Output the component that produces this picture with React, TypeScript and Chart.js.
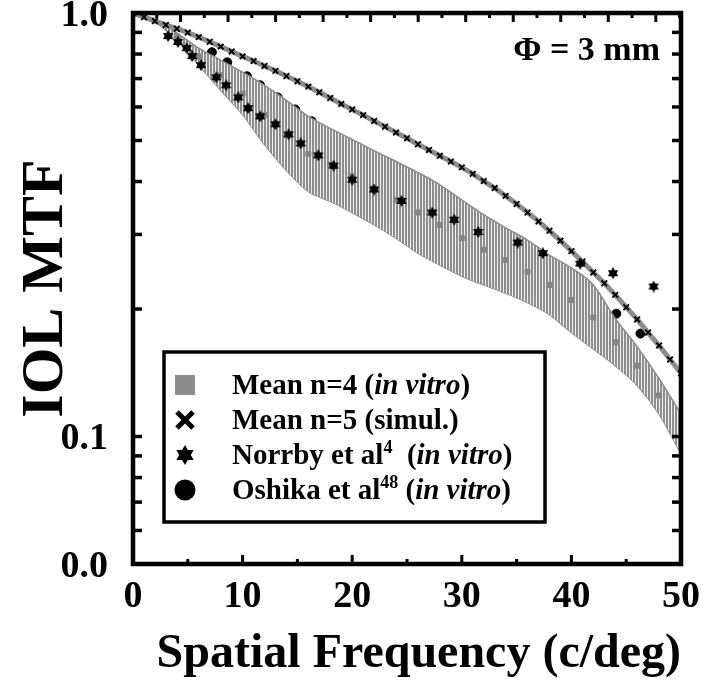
import React, { useEffect, useRef } from 'react';
import { Chart, registerables } from 'chart.js';

Chart.register(...registerables);

// ---------------- data ----------------
// Mean n=5 (simul.) : MTF vs spatial frequency (c/deg)
const SIM_FREQ = [
  0, 1, 2, 3, 4, 5, 6, 7, 8, 9, 10, 11, 12, 13, 14, 15, 16, 17, 18, 19, 20, 21, 22, 23, 24, 25,
  26, 27, 28, 29, 30, 31, 32, 33, 34, 35, 36, 37, 38, 39, 40, 41, 42, 43, 44, 45, 46, 47, 48, 49, 50,
];
const SIM_MTF = [
  1.0, 0.978, 0.957, 0.937, 0.918, 0.899, 0.877, 0.855, 0.833, 0.811, 0.79, 0.77, 0.75, 0.73, 0.71,
  0.69, 0.67, 0.65, 0.63, 0.61, 0.592, 0.574, 0.556, 0.539, 0.522, 0.506, 0.49, 0.475, 0.46, 0.446,
  0.432, 0.417, 0.401, 0.386, 0.37, 0.354, 0.338, 0.322, 0.306, 0.29, 0.274, 0.259, 0.244, 0.23,
  0.216, 0.202, 0.189, 0.176, 0.164, 0.152, 0.141,
];

// Mean n=4 (in vitro): mean and error-bar limits
const BAND_FREQ = [0, 2, 4, 6, 8, 10, 12, 14, 16, 18, 20, 22, 24, 26, 28, 30, 32, 34, 36, 38, 40, 42, 44, 46, 48, 50];
const BAND_MEAN = [
  1.0, 0.96, 0.88, 0.789, 0.713, 0.646, 0.575, 0.514, 0.465, 0.438, 0.412, 0.387, 0.362, 0.338,
  0.316, 0.294, 0.276, 0.261, 0.245, 0.228, 0.21, 0.191, 0.167, 0.147, 0.125, 0.102,
];
const BAND_HIGH = [
  1.0, 0.968, 0.897, 0.826, 0.774, 0.725, 0.675, 0.622, 0.57, 0.534, 0.503, 0.473, 0.446, 0.42,
  0.393, 0.362, 0.334, 0.311, 0.291, 0.268, 0.25, 0.228, 0.19, 0.163, 0.137, 0.113,
];
const BAND_LOW = [
  1.0, 0.952, 0.863, 0.753, 0.657, 0.576, 0.489, 0.425, 0.379, 0.359, 0.338, 0.316, 0.294, 0.271,
  0.254, 0.239, 0.228, 0.218, 0.207, 0.194, 0.176, 0.161, 0.147, 0.132, 0.113, 0.091,
];

// Norrby et al (in vitro)
const NORRBY_FREQ = [
  3.2, 4.1, 4.9, 5.4, 6.2, 7.6, 8.5, 9.6, 10.5, 11.6, 13.0, 14.2, 15.3, 16.9, 18.3, 20.0, 22.0,
  24.5, 27.3, 29.3, 31.5, 35.1, 37.4, 40.8, 43.8, 47.5,
];
const NORRBY_MTF = [
  0.882, 0.854, 0.826, 0.791, 0.753, 0.705, 0.675, 0.632, 0.596, 0.57, 0.546, 0.517, 0.492, 0.461,
  0.436, 0.404, 0.383, 0.36, 0.338, 0.325, 0.304, 0.287, 0.271, 0.256, 0.243, 0.226,
];

// Oshika et al (in vitro)
const OSHIKA_FREQ = [
  7.2, 8.6, 10.4, 11.6, 13.2, 14.8, 16.3, 17.6, 19.3, 20.8, 22.4, 24.3, 29.5, 31.5, 34.5, 37.0,
  38.8, 40.6, 44.1, 46.3,
];
const OSHIKA_MTF = [
  0.808, 0.765, 0.709, 0.675, 0.632, 0.592, 0.555, 0.511, 0.481, 0.453, 0.42, 0.389, 0.316, 0.279,
  0.25, 0.224, 0.208, 0.196, 0.195, 0.175,
];

// axes
const X_TICKS = [0, 10, 20, 30, 40, 50];
const X_MINOR_TICKS = [5, 15, 25, 35, 45];
const Y_TICK_VALUES = [0.05, 0.1, 1];
const Y_TICK_LABELS = ['0.0', '0.1', '1.0'];
const Y_FRAME_TICKS = [0.06, 0.07, 0.08, 0.09, 0.1, 0.2, 0.3, 0.4, 0.5, 0.6, 0.7, 0.8, 0.9];
const TOP_AXIS_MAX = 11.53;
const TOP_MAJOR = [1, 2, 3, 4, 5, 6, 7, 8, 9, 10, 11];
const TOP_MINOR = [0.5, 1.5, 2.5, 3.5, 4.5, 5.5, 6.5, 7.5, 8.5, 9.5, 10.5, 11.5];

const SERIF = "'Liberation Serif', 'Times New Roman', Times, serif";
const GRAY = '#8c8c8c';

function pts(xs: number[], ys: number[]) {
  return xs.map((x, i) => ({ x, y: ys[i] }));
}

function drawHexagram(g: CanvasRenderingContext2D, cx: number, cy: number, r: number, color: string) {
  g.fillStyle = color;
  for (const rot of [-Math.PI / 2, Math.PI / 2]) {
    g.beginPath();
    for (let k = 0; k < 3; k++) {
      const a = rot + (k * 2 * Math.PI) / 3;
      const px = cx + r * Math.cos(a);
      const py = cy + r * Math.sin(a);
      if (k === 0) g.moveTo(px, py);
      else g.lineTo(px, py);
    }
    g.closePath();
    g.fill();
  }
}

function makeStar(size: number, color: string) {
  const c = document.createElement('canvas');
  c.width = size;
  c.height = size;
  const g = c.getContext('2d')!;
  drawHexagram(g, size / 2, size / 2, size / 2, color);
  return c;
}

function makeStripes(ctx: CanvasRenderingContext2D) {
  const c = document.createElement('canvas');
  c.width = 3;
  c.height = 4;
  const g = c.getContext('2d')!;
  g.fillStyle = '#8e8e8e';
  g.fillRect(0, 0, 2, 4);
  g.fillStyle = '#eeeeee';
  g.fillRect(2, 0, 1, 4);
  return ctx.createPattern(c, 'repeat')!;
}

type Seg = { t: string; italic?: boolean; sup?: boolean };

function drawRich(ctx: CanvasRenderingContext2D, segs: Seg[], x: number, baseline: number, size: number) {
  let cx = x;
  for (const s of segs) {
    const fs = s.sup ? Math.round(size * 0.62) : size;
    ctx.font = `${s.italic ? 'italic ' : ''}bold ${fs}px ${SERIF}`;
    ctx.fillText(s.t, cx, s.sup ? baseline - size * 0.38 : baseline);
    cx += ctx.measureText(s.t).width;
  }
}

const decorPlugin = {
  id: 'decor',
  afterDraw(chart: any) {
    const { ctx, chartArea: a, scales } = chart;
    const xs = scales.x;
    const ys = scales.y;
    const xt = scales.xTop;
    ctx.save();
    ctx.strokeStyle = '#000';
    ctx.lineCap = 'butt';
    const line = (x1: number, y1: number, x2: number, y2: number) => {
      ctx.beginPath();
      ctx.moveTo(x1, y1);
      ctx.lineTo(x2, y2);
      ctx.stroke();
    };
    // inward tick marks
    ctx.lineWidth = 3.5;
    for (const v of Y_FRAME_TICKS) {
      const py = ys.getPixelForValue(v);
      line(a.left, py, a.left + 9, py);
      line(a.right, py, a.right - 9, py);
    }
    ctx.lineWidth = 3;
    for (const v of X_TICKS) {
      const px = xs.getPixelForValue(v);
      line(px, a.bottom, px, a.bottom - 9);
    }
    for (const v of X_MINOR_TICKS) {
      const px = xs.getPixelForValue(v);
      line(px, a.bottom, px, a.bottom - 5);
    }
    for (const v of TOP_MAJOR) {
      const px = xt.getPixelForValue(v);
      line(px, a.top, px, a.top + 9);
    }
    for (const v of TOP_MINOR) {
      const px = xt.getPixelForValue(v);
      line(px, a.top, px, a.top + 5);
    }
    // frame
    ctx.lineWidth = 4.5;
    ctx.strokeRect(a.left, a.top, a.right - a.left, a.bottom - a.top);

    // Φ label
    ctx.fillStyle = '#000';
    ctx.textAlign = 'right';
    ctx.textBaseline = 'alphabetic';
    ctx.font = `bold 34px ${SERIF}`;
    ctx.fillText('\u03A6 = 3 mm', 660, 60);

    // legend box
    const L = 164, T = 352, W = 381, H = 170;
    ctx.fillStyle = '#fff';
    ctx.fillRect(L, T, W, H);
    ctx.lineWidth = 3.5;
    ctx.strokeRect(L, T, W, H);
    const mx = 185;
    const rows = [385, 420, 455, 490];
    // markers
    ctx.fillStyle = GRAY;
    ctx.fillRect(mx - 10, rows[0] - 10, 20, 20);
    ctx.lineWidth = 5;
    line(mx - 8, rows[1] - 8, mx + 8, rows[1] + 8);
    line(mx + 8, rows[1] - 8, mx - 8, rows[1] + 8);
    drawHexagram(ctx, mx, rows[2], 10, '#000');
    ctx.fillStyle = '#000';
    ctx.beginPath();
    ctx.arc(mx, rows[3], 10.5, 0, Math.PI * 2);
    ctx.fill();
    // texts
    ctx.textAlign = 'left';
    ctx.fillStyle = '#000';
    const tx = 232;
    const fs = 29;
    const off = 9;
    drawRich(ctx, [{ t: 'Mean n=4 (' }, { t: 'in vitro', italic: true }, { t: ')' }], tx, rows[0] + off, fs);
    drawRich(ctx, [{ t: 'Mean n=5 (simul.)' }], tx, rows[1] + off, fs);
    drawRich(
      ctx,
      [{ t: 'Norrby et al' }, { t: '4', sup: true }, { t: '  (' }, { t: 'in vitro', italic: true }, { t: ')' }],
      tx,
      rows[2] + off,
      fs,
    );
    drawRich(
      ctx,
      [{ t: 'Oshika et al' }, { t: '48', sup: true }, { t: ' (' }, { t: 'in vitro', italic: true }, { t: ')' }],
      tx,
      rows[3] + off,
      fs,
    );
    ctx.restore();
  },
};

export default function App() {
  const ref = useRef<HTMLCanvasElement>(null);

  useEffect(() => {
    const canvas = ref.current!;
    const ctx = canvas.getContext('2d')!;
    const stripes = makeStripes(ctx);
    const star = makeStar(12, '#000');

    const chart = new Chart(ctx, {
      type: 'scatter',
      data: {
        datasets: [
          {
            label: 'Oshika et al (in vitro)',
            data: pts(OSHIKA_FREQ, OSHIKA_MTF),
            pointStyle: 'circle',
            pointRadius: 4.5,
            backgroundColor: '#000',
            borderColor: '#000',
            showLine: false,
            order: 6,
          },
          {
            label: 'Mean n=4 upper',
            data: pts(BAND_FREQ, BAND_HIGH),
            showLine: true,
            pointRadius: 0,
            borderWidth: 1.5,
            borderColor: GRAY,
            backgroundColor: stripes,
            fill: '+1',
            cubicInterpolationMode: 'monotone',
            order: 5,
          },
          {
            label: 'Mean n=4 lower',
            data: pts(BAND_FREQ, BAND_LOW),
            showLine: true,
            pointRadius: 0,
            borderWidth: 1.5,
            borderColor: GRAY,
            fill: false,
            cubicInterpolationMode: 'monotone',
            order: 5,
          },
          {
            label: 'Mean n=4 (in vitro)',
            data: pts(BAND_FREQ, BAND_MEAN),
            pointStyle: 'rect',
            pointRadius: 3.5,
            backgroundColor: '#858585',
            borderColor: '#858585',
            showLine: false,
            order: 4,
          },
          {
            label: 'Mean n=5 (simul.)',
            data: pts(SIM_FREQ, SIM_MTF),
            showLine: true,
            borderColor: GRAY,
            borderWidth: 5,
            pointStyle: 'crossRot',
            pointRadius: 4,
            pointBorderColor: '#000',
            pointBorderWidth: 1.8,
            pointBackgroundColor: '#000',
            order: 3,
          },
          {
            label: 'Norrby et al (in vitro)',
            data: pts(NORRBY_FREQ, NORRBY_MTF),
            pointStyle: star as any,
            showLine: false,
            order: 1,
          },
        ],
      },
      options: {
        responsive: false,
        animation: false,
        events: [],
        layout: { padding: { top: 13, right: 28, left: 0, bottom: 0 } },
        plugins: {
          legend: { display: false },
          tooltip: { enabled: false },
        },
        scales: {
          x: {
            type: 'linear',
            position: 'bottom',
            min: 0,
            max: 50,
            afterBuildTicks: (s: any) => {
              s.ticks = X_TICKS.map((v) => ({ value: v }));
            },
            ticks: {
              color: '#000',
              font: { family: SERIF, weight: 'bold', size: 38 },
              padding: 10,
              maxRotation: 0,
              autoSkip: false,
            },
            grid: { display: false, drawTicks: false },
            border: { display: false },
            title: {
              display: true,
              text: 'Spatial Frequency (c/deg)',
              align: 'end',
              color: '#000',
              font: { family: SERIF, weight: 'bold', size: 48 },
              padding: { top: 0, bottom: 2 },
            },
            afterFit: (s: any) => {
              s.height = 121;
              s.paddingLeft = 0;
              s.paddingRight = 0;
            },
          },
          xTop: {
            type: 'linear',
            position: 'top',
            display: false,
            min: 0,
            max: TOP_AXIS_MAX,
          },
          y: {
            type: 'logarithmic',
            min: 0.05,
            max: 1,
            afterBuildTicks: (s: any) => {
              s.ticks = Y_TICK_VALUES.map((v) => ({ value: v }));
            },
            ticks: {
              color: '#000',
              font: { family: SERIF, weight: 'bold', size: 38 },
              padding: 25,
              labelOffset: 3,
              autoSkip: false,
              callback: (v: any) => {
                const i = Y_TICK_VALUES.findIndex((t) => Math.abs(t - Number(v)) < 1e-9);
                return i >= 0 ? Y_TICK_LABELS[i] : '';
              },
            },
            grid: { display: false, drawTicks: false },
            border: { display: false },
            title: {
              display: true,
              text: 'IOL MTF',
              color: '#000',
              font: { family: SERIF, weight: 'bold', size: 60 },
              padding: { top: 10, bottom: 0 },
            },
            afterFit: (s: any) => {
              s.width = 133;
              s.paddingTop = 0;
              s.paddingBottom = 0;
            },
          },
        },
      } as any,
      plugins: [decorPlugin],
    });
    return () => chart.destroy();
  }, []);

  return (
    <div style={{ position: 'fixed', left: 0, top: 0, width: 709, height: 685, background: '#fff' }}>
      <canvas ref={ref} width={709} height={685} style={{ display: 'block' }} />
    </div>
  );
}
